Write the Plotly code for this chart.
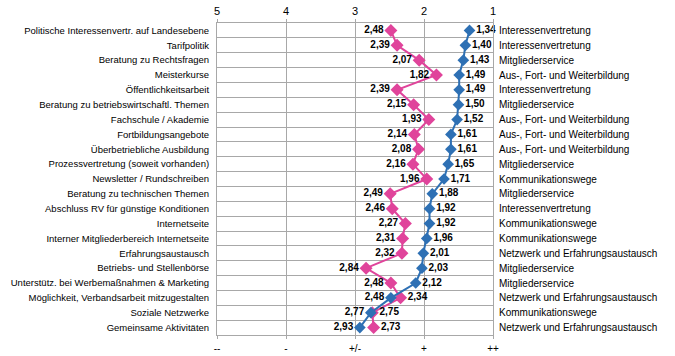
import plotly.graph_objects as go

categories = [
    "Politische Interessenvertr. auf Landesebene",
    "Tarifpolitik",
    "Beratung zu Rechtsfragen",
    "Meisterkurse",
    "Öffentlichkeitsarbeit",
    "Beratung zu betriebswirtschaftl. Themen",
    "Fachschule / Akademie",
    "Fortbildungsangebote",
    "Überbetriebliche Ausbildung",
    "Prozessvertretung (soweit vorhanden)",
    "Newsletter / Rundschreiben",
    "Beratung zu technischen Themen",
    "Abschluss RV für günstige Konditionen",
    "Internetseite",
    "Interner Mitgliederbereich Internetseite",
    "Erfahrungsaustausch",
    "Betriebs- und Stellenbörse",
    "Unterstütz. bei Werbemaßnahmen & Marketing",
    "Möglichkeit, Verbandsarbeit mitzugestalten",
    "Soziale Netzwerke",
    "Gemeinsame Aktivitäten",
]

groups = [
    "Interessenvertretung",
    "Interessenvertretung",
    "Mitgliederservice",
    "Aus-, Fort- und Weiterbildung",
    "Interessenvertretung",
    "Mitgliederservice",
    "Aus-, Fort- und Weiterbildung",
    "Aus-, Fort- und Weiterbildung",
    "Aus-, Fort- und Weiterbildung",
    "Mitgliederservice",
    "Kommunikationswege",
    "Mitgliederservice",
    "Interessenvertretung",
    "Kommunikationswege",
    "Kommunikationswege",
    "Netzwerk und Erfahrungsaustausch",
    "Mitgliederservice",
    "Mitgliederservice",
    "Netzwerk und Erfahrungsaustausch",
    "Kommunikationswege",
    "Netzwerk und Erfahrungsaustausch",
]

blue_values = [1.34, 1.40, 1.43, 1.49, 1.49, 1.50, 1.52, 1.61, 1.61, 1.65, 1.71,
               1.88, 1.92, 1.92, 1.96, 2.01, 2.03, 2.12, 2.48, 2.77, 2.93]
pink_values = [2.48, 2.39, 2.07, 1.82, 2.39, 2.15, 1.93, 2.14, 2.08, 2.16, 1.96,
               2.49, 2.46, 2.27, 2.31, 2.32, 2.84, 2.48, 2.34, 2.75, 2.73]

top_ticks = [5, 4, 3, 2, 1]
bottom_tick_labels = ["--", "-", "+/-", "+", "++"]

BLUE = "#2e70b4"
PINK = "#e0449b"
GRID = "#a8a8a8"
FAM = "Liberation Sans, Arial"

n = len(categories)
ypos = list(range(n))


def fmt(v):
    return f"{v:.2f}".replace(".", ",")


blue_pos = ["middle right"] * n
pink_pos = ["middle left"] * n
blue_pos[18] = "middle left"
pink_pos[18] = "middle right"
blue_pos[19] = "middle left"
pink_pos[19] = "middle right"
blue_pos[20] = "middle left"
pink_pos[20] = "middle right"

fig = go.Figure()
fig.add_trace(go.Scatter(
    x=pink_values, y=ypos, mode="lines+markers+text",
    line=dict(color=PINK, width=2),
    marker=dict(symbol="diamond", size=10, color=PINK),
    text=[fmt(v) for v in pink_values], textposition=pink_pos,
    textfont=dict(family=FAM, size=10, color="#000000", weight="bold"),
    cliponaxis=False, showlegend=False, hoverinfo="skip",
))
fig.add_trace(go.Scatter(
    x=blue_values, y=ypos, mode="lines+markers+text",
    line=dict(color=BLUE, width=2),
    marker=dict(symbol="diamond", size=9, color=BLUE),
    text=[fmt(v) for v in blue_values], textposition=blue_pos,
    textfont=dict(family=FAM, size=10, color="#000000", weight="bold"),
    cliponaxis=False, showlegend=False, hoverinfo="skip",
))
# invisible traces to activate secondary axes
fig.add_trace(go.Scatter(x=[None], y=[None], xaxis="x2", yaxis="y", showlegend=False, hoverinfo="skip"))
fig.add_trace(go.Scatter(x=[None], y=[None], xaxis="x", yaxis="y2", showlegend=False, hoverinfo="skip"))

font = dict(family=FAM, size=9.5, color="#000000")

fig.update_layout(
    template="none",
    width=675, height=356,
    margin=dict(l=217, r=182, t=23, b=21, autoexpand=False),
    paper_bgcolor="white", plot_bgcolor="white",
    font=font,
    xaxis=dict(
        range=[5, 1], side="top", tickmode="array", tickvals=top_ticks,
        ticktext=[str(t) for t in top_ticks], automargin=False,
        showgrid=True, gridcolor=GRID, gridwidth=1,
        ticks="outside", ticklen=3, tickcolor=GRID,
        showline=True, linecolor=GRID, mirror=True, zeroline=False,
        tickfont=dict(family=FAM, size=11, color="#000000"),
    ),
    xaxis2=dict(
        range=[5, 1], side="bottom", overlaying="x", anchor="y", matches="x",
        tickmode="array", tickvals=top_ticks, ticktext=bottom_tick_labels,
        showgrid=False, ticks="outside", ticklen=3, tickcolor=GRID,
        zeroline=False, ticklabelstandoff=1, automargin=False,
        tickfont=dict(family=FAM, size=10, color="#000000"),
    ),
    yaxis=dict(
        range=[n - 0.5, -0.5], tickmode="array", tickvals=ypos, ticktext=categories,
        showgrid=False, zeroline=False, ticks="", automargin=False,
        showline=True, linecolor=GRID, mirror=True,
        minor=dict(tick0=0.5, dtick=1, showgrid=True, gridcolor=GRID, gridwidth=1),
        tickfont=font, ticklabelstandoff=5,
    ),
    yaxis2=dict(
        range=[n - 0.5, -0.5], overlaying="y", side="right", anchor="x", matches="y",
        tickmode="array", tickvals=ypos, ticktext=groups, automargin=False,
        showgrid=False, zeroline=False, ticks="",
        tickfont=dict(family=FAM, size=10, color="#000000"),
        ticklabelstandoff=5,
    ),
)

fig.write_html("out.html", config={"displayModeBar": False},
               post_script="document.body.style.margin='0';")
